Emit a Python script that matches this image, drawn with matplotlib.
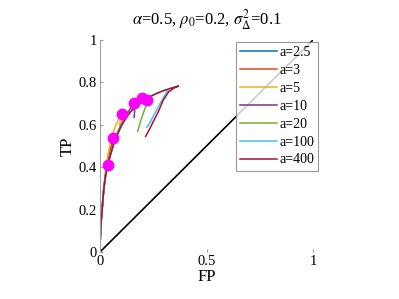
import numpy as np
import matplotlib.pyplot as plt

plt.rcParams['font.family'] = ['Liberation Serif', 'DejaVu Serif']
plt.rcParams['mathtext.fontset'] = 'stix'

labels = ['a=2.5', 'a=3', 'a=5', 'a=10', 'a=20', 'a=100', 'a=400']
colors = ['#0072BD', '#D95319', '#EDB120', '#7E2F8E', '#77AC30', '#4DBEEE', '#A2142F']

# ROC hooks: (FP, TP) pairs
fp_curves = [
    [0, 0.001, 0.003, 0.006, 0.010, 0.017, 0.025, 0.034, 0.040, 0.038],
    [0, 0.001, 0.003, 0.006, 0.010, 0.017, 0.025, 0.035, 0.048, 0.060, 0.064, 0.060],
    [0, 0.001, 0.003, 0.006, 0.010, 0.016, 0.023, 0.032, 0.045, 0.060, 0.075,
     0.090, 0.102, 0.098, 0.090],
    [0, 0.001, 0.003, 0.006, 0.010, 0.018, 0.026, 0.036, 0.050, 0.065, 0.085,
     0.105, 0.125, 0.145, 0.165, 0.163, 0.160],
    [0, 0.001, 0.003, 0.006, 0.010, 0.018, 0.026, 0.036, 0.050, 0.065, 0.085,
     0.105, 0.130, 0.160, 0.190, 0.215, 0.232, 0.220, 0.205, 0.190, 0.177],
    [0, 0.001, 0.003, 0.006, 0.010, 0.018, 0.026, 0.036, 0.050, 0.065, 0.085,
     0.105, 0.130, 0.160, 0.190, 0.220, 0.250, 0.280, 0.305, 0.322,
     0.312, 0.298, 0.282, 0.266, 0.250, 0.235, 0.225, 0.219],
    [0, 0.001, 0.003, 0.006, 0.010, 0.018, 0.026, 0.036, 0.050, 0.063, 0.080,
     0.100, 0.130, 0.160, 0.190, 0.220, 0.260, 0.300, 0.340, 0.369,
     0.345, 0.322, 0.297, 0.274, 0.250, 0.232, 0.220, 0.214],
]
tp_curves = [
    [0, 0.05, 0.10, 0.15, 0.20, 0.29, 0.35, 0.41, 0.44, 0.42],
    [0, 0.05, 0.10, 0.15, 0.20, 0.29, 0.36, 0.42, 0.48, 0.53, 0.545, 0.53],
    [0, 0.05, 0.10, 0.15, 0.21, 0.29, 0.36, 0.43, 0.50, 0.56, 0.60, 0.635,
     0.655, 0.63, 0.60],
    [0, 0.05, 0.10, 0.15, 0.20, 0.30, 0.36, 0.415, 0.47, 0.52, 0.57, 0.615,
     0.65, 0.68, 0.705, 0.67, 0.635],
    [0, 0.05, 0.10, 0.15, 0.20, 0.30, 0.36, 0.41, 0.465, 0.515, 0.565, 0.61,
     0.645, 0.68, 0.705, 0.725, 0.735, 0.70, 0.66, 0.615, 0.57],
    [0, 0.05, 0.10, 0.15, 0.20, 0.30, 0.36, 0.41, 0.46, 0.51, 0.56, 0.605,
     0.645, 0.68, 0.705, 0.725, 0.742, 0.755, 0.762, 0.765,
     0.752, 0.728, 0.700, 0.670, 0.640, 0.612, 0.596, 0.588],
    [0, 0.05, 0.10, 0.15, 0.20, 0.30, 0.36, 0.41, 0.46, 0.505, 0.55,
     0.595, 0.645, 0.68, 0.705, 0.725, 0.745, 0.762, 0.775, 0.783,
     0.772, 0.755, 0.717, 0.662, 0.615, 0.578, 0.556, 0.545],
]
dot_fp = [0.036, 0.063, 0.103, 0.160, 0.197, 0.222]
dot_tp = [0.41, 0.54, 0.65, 0.705, 0.727, 0.715]

fig = plt.figure(figsize=(3.99, 2.99), dpi=100)
ax = fig.add_axes([100/399, 47/299, 213/399, 212/299])

ax.plot([0, 1], [0, 1], color='black', lw=1.2, label='_nolegend_')
for fp, tp, lab, c in zip(fp_curves, tp_curves, labels, colors):
    ax.plot(fp, tp, color=c, lw=1.1, label=lab)
ax.plot(dot_fp, dot_tp, 'o', color='magenta', ms=7.5, label='_nolegend_')

ax.set_xlim(0, 1)
ax.set_ylim(0, 1)
ax.set_xticks([0, 0.5, 1])
ax.set_xticklabels(['0', '0.5', '1'])
ax.set_yticks([0, 0.2, 0.4, 0.6, 0.8, 1])
ax.set_yticklabels(['0', '0.2', '0.4', '0.6', '0.8', '1'])
ax.tick_params(direction='in', length=2.5, color='#a0a0a0', labelsize=10.5, pad=2)
for s in ['top', 'right', 'bottom']:
    ax.spines[s].set_visible(False)
ax.spines['left'].set_color('#a0a0a0')
ax.spines['left'].set_linewidth(0.8)

ax.set_xlabel('FP', fontsize=12, labelpad=1)
ax.set_ylabel('TP', fontsize=12, labelpad=2)
ax.set_title(r'$\alpha$=0.5, $\rho_0$=0.2, $\sigma^2_\Delta$=0.1', fontsize=12, pad=11)

leg = ax.legend(loc='upper left', bbox_to_anchor=(0.64, 0.99), fontsize=10,
                frameon=True, fancybox=False, edgecolor='#808080',
                handlelength=2.6, handletextpad=0.2, labelspacing=0.35,
                borderpad=0.3, borderaxespad=0)
leg.get_frame().set_linewidth(0.8)

fig.savefig('out.png', dpi=100)
